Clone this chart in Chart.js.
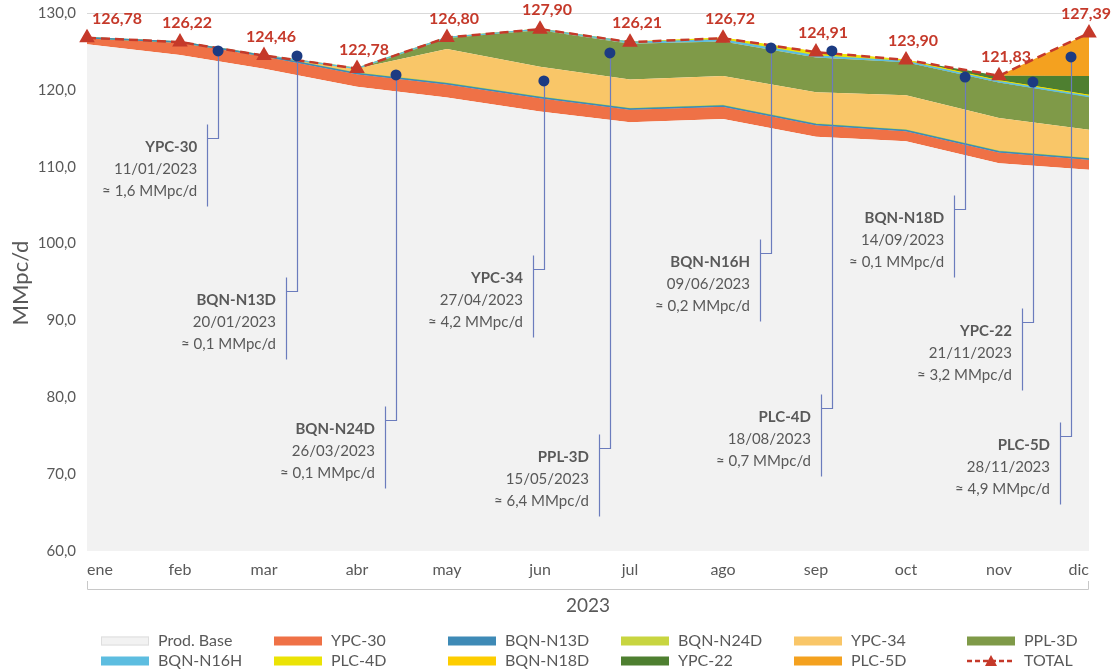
<!DOCTYPE html>
<html lang="es">
<head>
<meta charset="UTF-8">
<title>Producción 2023</title>
<script src="https://cdn.jsdelivr.net/npm/chart.js"></script>
<style>
  html, body { margin: 0; padding: 0; background: #fff; }
</style>
</head>
<body>
<canvas id="chart" width="1114" height="670"></canvas>
<script>
// months (day of year of the 1st of each month)
const monthLabels = ['ene', 'feb', 'mar', 'abr', 'may', 'jun', 'jul', 'ago', 'sep', 'oct', 'nov', 'dic'];
const monthDays = [0, 31, 59, 90, 120, 151, 181, 212, 243, 273, 304, 334];
const yTicks = [60, 70, 80, 90, 100, 110, 120, 130];

// MMpc/d per month, stacked bottom to top
const prodBase = [125.94, 124.52, 122.74, 120.42, 119.00, 117.20, 115.80, 116.20, 113.90, 113.30, 110.45, 109.60];
const ypc30    = [0.80, 1.60, 1.60, 1.60, 1.70, 1.70, 1.60, 1.60, 1.50, 1.30, 1.40, 1.30];
const bqnN13d  = [0.04, 0.10, 0.10, 0.10, 0.10, 0.10, 0.10, 0.10, 0.10, 0.10, 0.10, 0.10];
const bqnN24d  = [0, 0, 0.02, 0.10, 0.10, 0.10, 0.10, 0.10, 0.10, 0.10, 0.10, 0.10];
const ypc34    = [0, 0, 0, 0.56, 4.40, 3.90, 3.75, 3.80, 4.10, 4.50, 4.30, 3.70];
const ppl3d    = [0, 0, 0, 0, 1.50, 4.75, 4.66, 4.50, 4.50, 4.30, 4.60, 4.30];
const bqnN16h  = [0, 0, 0, 0, 0, 0.15, 0.20, 0.20, 0.20, 0.10, 0.10, 0.05];
const plc4d    = [0, 0, 0, 0, 0, 0, 0, 0.22, 0.50, 0.10, 0.10, 0.10];
const bqnN18d  = [0, 0, 0, 0, 0, 0, 0, 0, 0.01, 0.10, 0.05, 0.05];
const ypc22    = [0, 0, 0, 0, 0, 0, 0, 0, 0, 0, 0.63, 2.50];
const plc5d    = [0, 0, 0, 0, 0, 0, 0, 0, 0, 0, 0, 5.59];
const total    = [126.78, 126.22, 124.46, 122.78, 126.80, 127.90, 126.21, 126.72, 124.91, 123.90, 121.83, 127.39];

// well callouts
const noteNames = ['YPC-30', 'BQN-N13D', 'BQN-N24D', 'YPC-34', 'PPL-3D', 'BQN-N16H', 'PLC-4D', 'BQN-N18D', 'YPC-22', 'PLC-5D'];
const noteDates = ['11/01/2023', '20/01/2023', '26/03/2023', '27/04/2023', '15/05/2023', '09/06/2023', '18/08/2023', '14/09/2023', '21/11/2023', '28/11/2023'];
const noteRates = ['1,6', '0,1', '0,1', '4,2', '6,4', '0,2', '0,7', '0,1', '3,2', '4,9'];

// where each callout sits: [day, value of dot, value of elbow]
const notePos = [
  [43.7, 125.06, 113.7], [70, 124.41, 93.8], [103, 121.94, 77.1], [152.3, 121.16, 96.7],
  [174.3, 124.80, 73.4], [228, 125.45, 98.8], [248.3, 125.06, 78.6], [292.7, 121.67, 104.5],
  [315.3, 121.02, 89.8], [328, 124.28, 75.0]
];

const red = '#c5392a';
const grey = '#595959';
const font = 'Lato, "Noto Sans", sans-serif';

const series = [
  { label: 'Prod. Base', data: prodBase, color: '#f2f2f2', edge: '#dedede' },
  { label: 'YPC-30', data: ypc30, color: '#ef7146' },
  { label: 'BQN-N13D', data: bqnN13d, color: '#3e8ab6', line: 1.5 },
  { label: 'BQN-N24D', data: bqnN24d, color: '#c8d540', line: 1 },
  { label: 'YPC-34', data: ypc34, color: '#f9c668' },
  { label: 'PPL-3D', data: ppl3d, color: '#7f9a48' },
  { label: 'BQN-N16H', data: bqnN16h, color: '#5dbde0', line: 1.5 },
  { label: 'PLC-4D', data: plc4d, color: '#ebe305', line: 1.5 },
  { label: 'BQN-N18D', data: bqnN18d, color: '#fdcd00', line: 1 },
  { label: 'YPC-22', data: ypc22, color: '#4e7f30' },
  { label: 'PLC-5D', data: plc5d, color: '#f4a11f' }
];

const toPoints = arr => arr.map((v, i) => ({ x: monthDays[i], y: v }));

const datasets = series.map((s, i) => ({
  label: s.label,
  data: toPoints(s.data),
  backgroundColor: s.color,
  borderColor: s.line ? s.color : 'rgba(0,0,0,0)',
  borderWidth: s.line || 1,
  pointRadius: 0,
  fill: i === 0 ? 'start' : '-1',
  stack: 'prod',
  tension: 0
}));

datasets.push({
  label: 'TOTAL',
  data: toPoints(total),
  stack: 'total',
  order: -1,
  borderColor: red,
  borderWidth: 2.5,
  borderDash: [9, 5],
  pointStyle: 'triangle',
  pointRadius: 6.5,
  pointBackgroundColor: red,
  pointBorderColor: red,
  fill: false,
  clip: false,
  tension: 0
});
const totalIndex = datasets.length - 1;

const fmt = (v, d) => v.toFixed(d).replace('.', ',');

const overlay = {
  id: 'overlay',
  afterDatasetsDraw(chart) {
    const { ctx, scales: { x, y } } = chart;
    ctx.save();

    // callouts: leader, bracket, text, dot
    notePos.forEach((p, i) => {
      const px = x.getPixelForValue(p[0]);
      const py = y.getPixelForValue(p[1]);
      const ey = Math.round(y.getPixelForValue(p[2])) + 0.5;
      const bx = Math.round(px - 11) + 0.5;
      const lx = Math.round(px) + 0.5;
      ctx.strokeStyle = '#6b7cbd';
      ctx.lineWidth = 1.2;
      ctx.beginPath();
      ctx.moveTo(lx, py);
      ctx.lineTo(lx, ey);
      ctx.lineTo(bx, ey);
      ctx.moveTo(bx, ey - 14);
      ctx.lineTo(bx, ey + 68);
      ctx.stroke();

      ctx.fillStyle = grey;
      ctx.textAlign = 'right';
      ctx.textBaseline = 'middle';
      const tx = px - 21;
      ctx.font = 'bold 15px ' + font;
      ctx.fillText(noteNames[i], tx, ey + 9);
      ctx.font = '15px ' + font;
      ctx.fillText(noteDates[i], tx, ey + 31);
      ctx.fillText('\u2248 ' + noteRates[i] + ' MMpc/d', tx, ey + 53);

      ctx.fillStyle = '#1c3b82';
      ctx.beginPath();
      ctx.arc(px, py, 5.5, 0, Math.PI * 2);
      ctx.fill();
    });

    // total labels
    const meta = chart.getDatasetMeta(totalIndex);
    ctx.fillStyle = red;
    ctx.font = 'bold 16px ' + font;
    ctx.textAlign = 'center';
    ctx.textBaseline = 'middle';
    meta.data.forEach((pt, i) => {
      const lx = Math.min(Math.max(pt.x + 7, 117), 1086);
      ctx.fillText(fmt(total[i], 2), lx, pt.y - 19);
    });
    ctx.restore();
  },
  afterDraw(chart) {
    const { ctx, chartArea: a } = chart;
    ctx.save();

    // y title
    ctx.fillStyle = grey;
    ctx.font = '22px ' + font;
    ctx.textAlign = 'center';
    ctx.textBaseline = 'middle';
    ctx.translate(21, 283);
    ctx.rotate(-Math.PI / 2);
    ctx.fillText('MMpc/d', 0, 0);
    ctx.setTransform(1, 0, 0, 1, 0, 0);

    // year bracket under the months
    ctx.strokeStyle = '#c8c8c8';
    ctx.lineWidth = 1;
    ctx.beginPath();
    ctx.moveTo(a.left + 0.5, 581);
    ctx.lineTo(a.left + 0.5, 589.5);
    ctx.lineTo(a.right - 0.5, 589.5);
    ctx.lineTo(a.right - 0.5, 581);
    ctx.stroke();
    ctx.fillStyle = grey;
    ctx.font = '19px ' + font;
    ctx.fillText('2023', (a.left + a.right) / 2, 606);

    // legend
    const cols = [101, 274, 448, 621, 794, 967];
    const rows = [641, 661];
    const items = series.map(s => ({ label: s.label, color: s.color, edge: s.edge }));
    items.push({ label: 'TOTAL', total: true });
    ctx.font = '16px ' + font;
    ctx.textAlign = 'left';
    items.forEach((it, i) => {
      const bx = cols[i % 6];
      const by = rows[Math.floor(i / 6)];
      if (it.total) {
        ctx.strokeStyle = red;
        ctx.lineWidth = 2.5;
        ctx.setLineDash([5, 3]);
        ctx.beginPath();
        ctx.moveTo(bx, by);
        ctx.lineTo(bx + 48, by);
        ctx.stroke();
        ctx.setLineDash([]);
        ctx.fillStyle = red;
        ctx.beginPath();
        ctx.moveTo(bx + 24, by - 6);
        ctx.lineTo(bx + 30, by + 5);
        ctx.lineTo(bx + 18, by + 5);
        ctx.closePath();
        ctx.fill();
      } else {
        ctx.fillStyle = it.color;
        ctx.fillRect(bx, by - 4.5, 48, 9);
        if (it.edge) {
          ctx.strokeStyle = it.edge;
          ctx.lineWidth = 1;
          ctx.strokeRect(bx + 0.5, by - 4, 47, 8);
        }
      }
      ctx.fillStyle = grey;
      ctx.fillText(it.label, bx + 57, by);
    });
    ctx.restore();
  }
};

Chart.defaults.font.family = font;
Chart.defaults.color = grey;

new Chart(document.getElementById('chart'), {
  type: 'line',
  data: { datasets },
  plugins: [overlay],
  options: {
    responsive: false,
    animation: false,
    layout: { padding: { top: 13, right: 25, left: 0, bottom: 0 } },
    plugins: {
      legend: { display: false },
      tooltip: { enabled: false },
      filler: { drawTime: 'beforeDatasetsDraw' }
    },
    scales: {
      x: {
        type: 'linear',
        min: 0,
        max: 334,
        afterBuildTicks: s => { s.ticks = monthDays.map(v => ({ value: v })); },
        afterFit: s => { s.height = 119; s.paddingLeft = 0; s.paddingRight = 0; },
        grid: { display: false, drawTicks: false },
        border: { display: false },
        ticks: {
          autoSkip: false,
          maxRotation: 0,
          align: 'inner',
          padding: 9,
          font: { size: 16 },
          callback: v => monthLabels[monthDays.indexOf(v)]
        }
      },
      y: {
        stacked: true,
        min: 60,
        max: 130,
        afterBuildTicks: s => { s.ticks = yTicks.map(v => ({ value: v })); },
        afterFit: s => { s.width = 87; s.paddingTop = 0; s.paddingBottom = 0; },
        border: { display: false },
        grid: {
          drawTicks: false,
          color: c => c.tick && c.tick.value === 130 ? '#d9d9d9' : 'rgba(0,0,0,0)'
        },
        ticks: {
          padding: 11,
          font: { size: 15 },
          callback: v => fmt(v, 1)
        }
      }
    }
  }
});
</script>
</body>
</html>
